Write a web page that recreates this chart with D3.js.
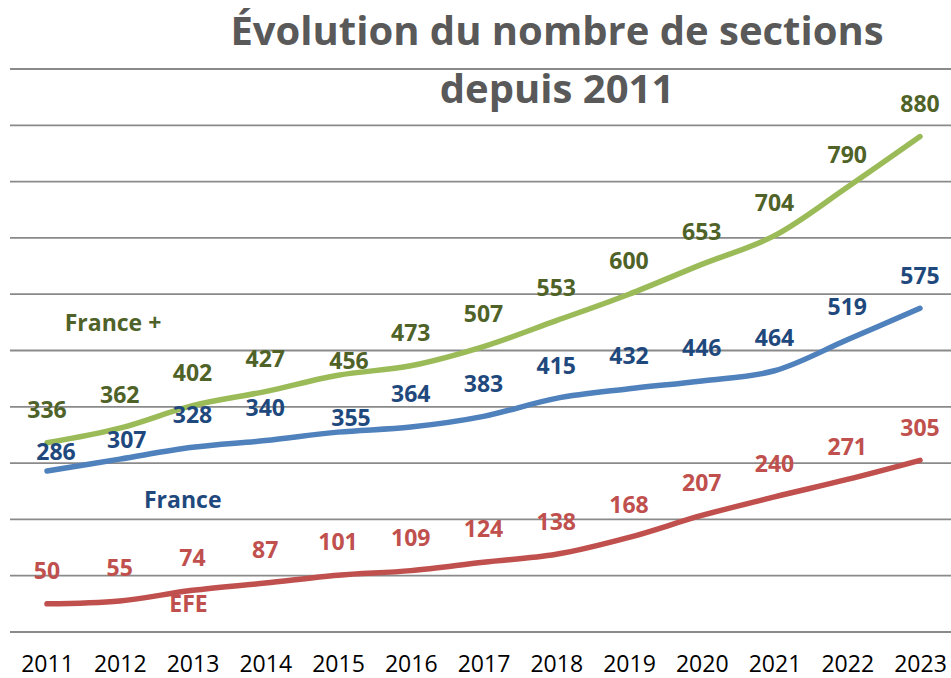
<!DOCTYPE html>
<html>
<head>
<meta charset="utf-8">
<script src="https://cdn.jsdelivr.net/npm/d3@7"></script>
<style>
  body { margin: 0; background: #fff; }
  svg { display: block; font-family: "Open Sans", sans-serif; }
</style>
</head>
<body>
<svg width="951" height="678"></svg>
<script>
var years = [2011, 2012, 2013, 2014, 2015, 2016, 2017, 2018, 2019, 2020, 2021, 2022, 2023];
var francePlus = [336, 362, 402, 427, 456, 473, 507, 553, 600, 653, 704, 790, 880];
var france = [286, 307, 328, 340, 355, 364, 383, 415, 432, 446, 464, 519, 575];
var efe = [50, 55, 74, 87, 101, 109, 124, 138, 168, 207, 240, 271, 305];
var gridTicks = [0, 100, 200, 300, 400, 500, 600, 700, 800, 900, 1000];
var titleLines = ["Évolution du nombre de sections", "depuis 2011"];

var series = [
  {name: "France +", values: francePlus, line: "#9bbb59", text: "#4f6228"},
  {name: "France", values: france, line: "#4f81bd", text: "#1f497d"},
  {name: "EFE", values: efe, line: "#c0504d", text: "#c0504d"}
];

// labels that were moved by hand in the original
var nudges = {
  "France +-2015": [11, 18],
  "France-2011": [9, 14],
  "France-2012": [7, 14],
  "France-2015": [13, 19]
};

var svg = d3.select("svg"),
    width = +svg.attr("width"),
    height = +svg.attr("height");

var x = d3.scaleLinear().domain([2011, 2023]).range([47, 920]);
var y = d3.scaleLinear().domain([0, 1000]).range([632, 69]);

// grid
svg.append("g").selectAll("line")
  .data(gridTicks)
  .join("line")
    .attr("x1", 10)
    .attr("x2", width)
    .attr("y1", function(d) { return y(d); })
    .attr("y2", function(d) { return y(d); })
    .attr("stroke", "#8a8a8a")
    .attr("stroke-width", 1.8);

// title
svg.append("g").selectAll("text")
  .data(titleLines)
  .join("text")
    .attr("x", 557)
    .attr("y", function(d, i) { return 45 + i * 58; })
    .attr("text-anchor", "middle")
    .attr("font-size", 40)
    .attr("font-weight", "bold")
    .attr("fill", "#595959")
    .text(function(d) { return d; });

// x axis labels
var xAxis = d3.axisBottom(x)
  .tickValues(years)
  .tickFormat(d3.format("d"))
  .tickSize(0)
  .tickPadding(0);

var gx = svg.append("g")
  .attr("transform", "translate(0,656)")
  .call(xAxis);
gx.select(".domain").remove();
gx.selectAll("text")
  .attr("font-family", "'Open Sans', sans-serif")
  .attr("font-size", 23)
  .attr("fill", "#000")
  .attr("dy", "0.71em");

var line = d3.line()
  .x(function(d, i) { return x(years[i]); })
  .y(function(d) { return y(d); })
  .curve(d3.curveCatmullRom.alpha(0.5));

svg.append("g").selectAll("path")
  .data(series)
  .join("path")
    .attr("d", function(s) { return line(s.values); })
    .attr("fill", "none")
    .attr("stroke", function(s) { return s.line; })
    .attr("stroke-width", 5.5)
    .attr("stroke-linecap", "round")
    .attr("stroke-linejoin", "round");

// data labels
series.forEach(function(s) {
  svg.append("g").selectAll("text")
    .data(s.values)
    .join("text")
      .attr("x", function(d, i) {
        var n = nudges[s.name + "-" + years[i]];
        return x(years[i]) + (n ? n[0] : 0);
      })
      .attr("y", function(d, i) {
        var n = nudges[s.name + "-" + years[i]];
        return y(d) - 33 + (n ? n[1] : 0);
      })
      .attr("dy", "0.36em")
      .attr("text-anchor", "middle")
      .attr("font-size", 23)
      .attr("font-weight", "bold")
      .attr("fill", s.text)
      .text(function(d) { return d; });
});

// series names
var names = [
  {s: series[0], x: x(2011) + 66, y: 331},
  {s: series[1], x: x(2012) + 63, y: 508},
  {s: series[2], x: x(2013) - 4, y: 612}
];
svg.append("g").selectAll("text")
  .data(names)
  .join("text")
    .attr("x", function(d) { return d.x; })
    .attr("y", function(d) { return d.y; })
    .attr("text-anchor", "middle")
    .attr("font-size", 23)
    .attr("font-weight", "bold")
    .attr("fill", function(d) { return d.s.text; })
    .text(function(d) { return d.s.name; });
</script>
</body>
</html>
